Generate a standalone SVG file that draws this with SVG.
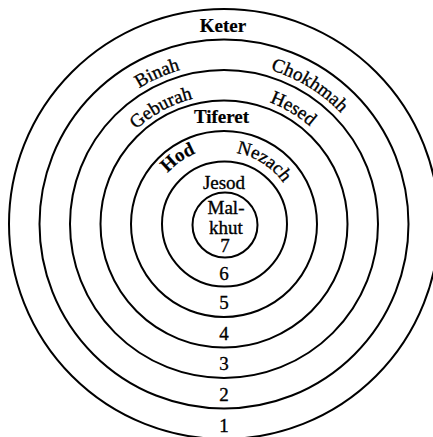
<svg xmlns="http://www.w3.org/2000/svg" xmlns:xlink="http://www.w3.org/1999/xlink" width="433" height="437" viewBox="0 0 433 437">
<style>
.ring{fill:none;stroke:#000;stroke-width:2}
.t{font-family:'Liberation Serif','Times New Roman',serif;font-size:19px;fill:#000;stroke:#000;stroke-width:0.35;text-anchor:middle}
.b{font-weight:bold;stroke-width:0.2}
</style>
<defs>
<path id="p160" d="M64,224 A160,160 0 0 1 384,224"/>
<path id="p161" d="M63,224 A161,161 0 0 1 385,224"/>
<path id="p129" d="M95,224 A129,129 0 0 1 353,224"/>
<path id="p130" d="M94,224 A130,130 0 0 1 354,224"/>
<path id="p76" d="M148,224 A76,76 0 0 1 300,224"/>
<path id="p72" d="M152,224 A72,72 0 0 1 296,224"/>
</defs>
<rect width="433" height="437" fill="#fff"/>
<g id="ring1">
<circle class="ring" cx="224" cy="224" r="215"/>
<text class="t b" x="223" y="32">Keter</text>
<text class="t" x="224" y="432">1</text>
</g>
<g id="ring2">
<circle class="ring" cx="224" cy="224" r="184.5"/>
<text class="t"><textPath href="#p160" startOffset="36.7%">Binah</textPath></text>
<text class="t"><textPath href="#p161" startOffset="67.6%">Chokhmah</textPath></text>
<text class="t" x="224" y="401">2</text>
</g>
<g id="ring3">
<circle class="ring" cx="224" cy="224" r="154"/>
<text class="t"><textPath href="#p129" startOffset="34.2%">Geburah</textPath></text>
<text class="t"><textPath href="#p130" startOffset="67.2%">Hesed</textPath></text>
<text class="t" x="224" y="370">3</text>
</g>
<g id="ring4">
<circle class="ring" cx="224" cy="224" r="123.5"/>
<text class="t b" x="221.5" y="123">Tiferet</text>
<text class="t" x="224" y="340">4</text>
</g>
<g id="ring5">
<circle class="ring" cx="224" cy="224" r="93"/>
<text class="t b"><textPath href="#p76" startOffset="30.6%">Hod</textPath></text>
<text class="t"><textPath href="#p72" startOffset="68.1%">Nezach</textPath></text>
<text class="t" x="224" y="309">5</text>
</g>
<g id="ring6">
<circle class="ring" cx="224.5" cy="224" r="62.5"/>
<text class="t" x="224" y="189">Jesod</text>
<text class="t" x="224" y="280">6</text>
</g>
<g id="ring7">
<circle class="ring" cx="225" cy="225" r="32.5"/>
<text class="t" x="226" y="214">Mal-</text>
<text class="t" x="226" y="234">khut</text>
<text class="t" x="225" y="252">7</text>
</g>
</svg>
